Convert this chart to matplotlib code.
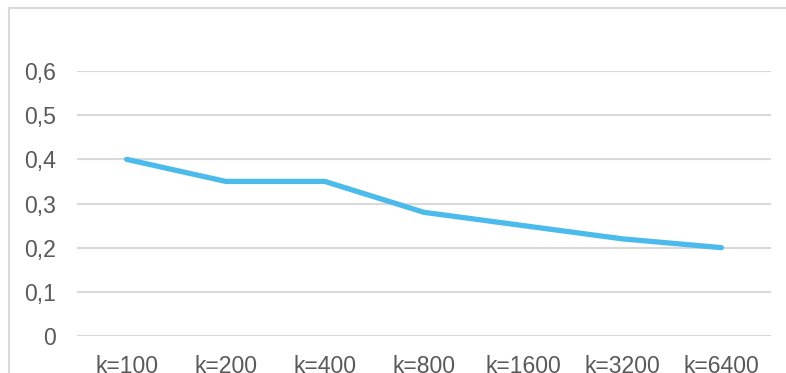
#/usr/bin/env python3

import matplotlib
matplotlib.use('Agg')
import matplotlib.pyplot as plt
from matplotlib.patches import Rectangle

categories = ['k=100', 'k=200', 'k=400', 'k=800', 'k=1600', 'k=3200', 'k=6400']
values = [0.40, 0.35, 0.35, 0.28, 0.25, 0.22, 0.20]
yticks = [0, 0.1, 0.2, 0.3, 0.4, 0.5, 0.6]
ytick_labels = ['0', '0,1', '0,2', '0,3', '0,4', '0,5', '0,6']

def main():
	plt.rcParams['font.family'] = ['Liberation Sans', 'DejaVu Sans']
	fig = plt.figure(figsize=(7.86, 3.73), dpi=100)

	#Chart border (cropped at right and bottom)
	fig.patches.append(Rectangle((9 / 786, -0.1), 1.0, (373 - 8) / 373 + 0.1,
		transform=fig.transFigure, fill=False, edgecolor='#D9D9D9', linewidth=1.5))

	ax = fig.add_axes([77 / 786, (373 - 336) / 373, (771 - 77) / 786, (336 - 71) / 373])
	x = range(len(categories))
	ax.plot(x, values, color='#4BBBEB', linewidth=3.8, solid_capstyle='round',
		solid_joinstyle='round', zorder=3)

	#Axis configuration
	ax.set_xlim(-0.5, len(categories) - 0.5)
	ax.set_ylim(0, 0.6)
	ax.set_xticks(list(x))
	ax.set_xticklabels(categories)
	ax.set_yticks(yticks)
	ax.set_yticklabels(ytick_labels)
	ax.tick_params(axis='both', length=0, labelsize=16.6, labelcolor='#595959')
	ax.tick_params(axis='x', pad=14)
	ax.tick_params(axis='y', pad=15)
	for spine in ax.spines.values():
		spine.set_visible(False)
	ax.grid(axis='y', color='#D9D9D9', linewidth=1.5)
	ax.set_axisbelow(True)

	fig.savefig('out.png', dpi=100)

if __name__ == '__main__':
	main()
